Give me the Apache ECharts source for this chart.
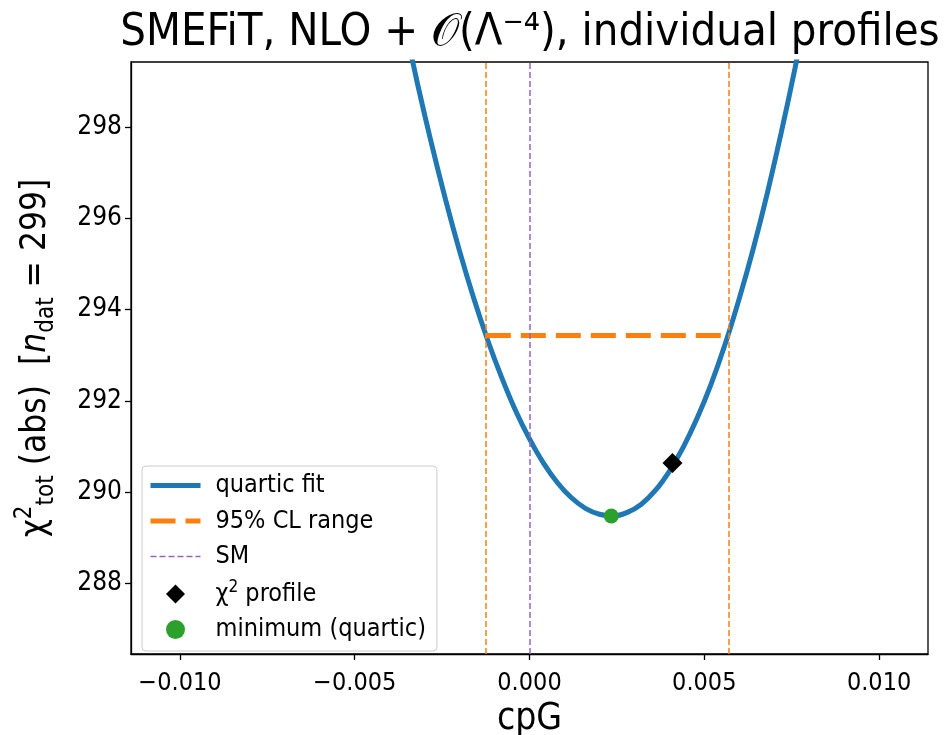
<!DOCTYPE html>
<html>
<head>
<meta charset="utf-8">
<script src="https://cdn.jsdelivr.net/npm/echarts@6/dist/echarts.min.js"></script>
<style>
html,body{margin:0;padding:0;background:#fff;}
#chart{width:947px;height:735px;}
</style>
</head>
<body>
<div id="chart"></div>
<script>
// ---- data ----
const cpG = [-0.0036,-0.0032,-0.0028,-0.0024,-0.0020,-0.0016,-0.0012,-0.0008,-0.0004,0.0000,
             0.0004,0.0008,0.0012,0.0016,0.0020,0.0024,0.0028,0.0032,0.0036,0.0040,
             0.0044,0.0048,0.0052,0.0056,0.0060,0.0064,0.0068,0.0072,0.0076,0.0080];
const chi2Fit = [300.35,298.93,297.62,296.40,295.28,294.26,293.34,292.52,291.79,291.17,
                 290.64,290.21,289.88,289.65,289.52,289.48,289.56,289.74,290.04,290.46,
                 290.99,291.63,292.38,293.25,294.24,295.33,296.54,297.87,299.30,300.85];
const clBounds = [-0.00125, 0.00571];
const clChi2 = 293.43;
const smValue = 0;
const profileX = [0.00409];
const profileY = [290.64];
const minimumX = [0.00234];
const minimumY = [289.48];
const xTicks = [-0.010,-0.005,0.000,0.005,0.010];
const yTicks = [288,290,292,294,296,298];
const xRange = [-0.0114, 0.0114];
const yRange = [286.46, 299.42];

const FONT = "'DejaVu Sans Condensed','DejaVu Sans',sans-serif";
const fitData = cpG.map((x,i)=>[x, chi2Fit[i]]);
const clData = clBounds.map(x=>[x, clChi2]);
const profData = profileX.map((x,i)=>[x, profileY[i]]);
const minData = minimumX.map((x,i)=>[x, minimumY[i]]);

const chart = echarts.init(document.getElementById('chart'), null, {renderer:'canvas'});
chart.setOption({
  animation:false,
  backgroundColor:'#fff',
  title:{
    text:'SMEFiT, NLO + 𝒪(Λ⁻⁴), individual profiles',
    left:525, top:6, textAlign:'center',
    textStyle:{fontFamily:FONT, fontSize:45, fontWeight:'normal', color:'#000'}
  },
  grid:{left:131, right:19, top:62, bottom:81, containLabel:false, outerBoundsMode:'none',
        show:true, borderColor:'#000', borderWidth:1.3, backgroundColor:'transparent'},
  legend:{
    orient:'vertical', left:142, top:466,
    symbolKeepAspect:true,
    data:[
      {name:'quartic fit', itemStyle:{opacity:0}, lineStyle:{color:'#1f77b4', width:5, type:'solid'}},
      {name:'95% CL range', itemStyle:{opacity:0}, lineStyle:{color:'#ff7f0e', width:5, type:[25,10]}},
      {name:'SM', itemStyle:{opacity:0}, lineStyle:{color:'#9467bd', width:1.5, type:[6,3]}},
      {name:'χ² profile', icon:'path://M0,-1L1,0L0,1L-1,0Z'},
      {name:'minimum (quartic)', icon:'circle'}
    ],
    itemWidth:50, itemHeight:19, itemGap:10.5,
    padding:[7,11,9,6],
    backgroundColor:'rgba(255,255,255,0.8)', borderColor:'#ccc', borderWidth:1, borderRadius:4,
    formatter: function(name){
      if(name==='χ² profile') return '{t|χ}{s|2}{t| profile}';
      return '{t|'+name+'}';
    },
    textStyle:{fontFamily:FONT, fontSize:25, color:'#000', padding:[0,0,0,10],
      rich:{t:{fontFamily:FONT, fontSize:25, color:'#000', lineHeight:25},
            s:{fontFamily:FONT, fontSize:17, color:'#000', verticalAlign:'bottom', padding:[0,0,12,0]}}}
  },
  xAxis:{
    type:'value', min:xRange[0], max:xRange[1],
    name:'cpG', nameLocation:'middle', nameGap:44,
    nameTextStyle:{fontFamily:FONT, fontSize:37, color:'#000'},
    axisLine:{show:true, onZero:false, lineStyle:{color:'#000', width:1.3}},
    axisTick:{show:true, customValues:xTicks, length:6, lineStyle:{color:'#000', width:1.3}},
    axisLabel:{customValues:xTicks, margin:17, fontFamily:FONT, fontSize:25, color:'#000',
      formatter:v=>(v<0?'\u2212':'')+Math.abs(v).toFixed(3)},
    splitLine:{show:false}
  },
  yAxis:{
    type:'value', min:yRange[0], max:yRange[1],
    name:'{a|χ}{p|2}{b|tot}{a| (abs)  [}{i|n}{b|dat}{a| = 299]}',
    nameLocation:'middle', nameGap:72, nameRotate:90,
    nameTextStyle:{fontFamily:FONT, fontSize:35, color:'#000',
      rich:{a:{fontFamily:FONT, fontSize:35, color:'#000', lineHeight:46},
            i:{fontFamily:FONT, fontSize:35, fontStyle:'italic', color:'#000', lineHeight:46},
            p:{fontFamily:FONT, fontSize:24, color:'#000', verticalAlign:'top', lineHeight:46},
            b:{fontFamily:FONT, fontSize:24, color:'#000', verticalAlign:'bottom', lineHeight:46}}},
    axisLine:{show:true, onZero:false, lineStyle:{color:'#000', width:1.3}},
    axisTick:{show:true, customValues:yTicks, length:6, lineStyle:{color:'#000', width:1.3}},
    axisLabel:{customValues:yTicks, margin:9, fontFamily:FONT, fontSize:26, color:'#000'},
    splitLine:{show:false}
  },
  series:[
    {name:'quartic fit', type:'line', data:fitData, smooth:0.3, symbol:'none', showSymbol:false,
     clip:true, z:2, lineStyle:{color:'#1f77b4', width:5}, itemStyle:{color:'#1f77b4'}},
    {name:'95% CL range', type:'line', data:clData, symbol:'none', showSymbol:false, z:3,
     lineStyle:{color:'#ff7f0e', width:5, type:[25,10]}, itemStyle:{color:'#ff7f0e'},
     markLine:{silent:true, precision:10, symbol:['none','none'], label:{show:false},
       lineStyle:{color:'#ff7f0e', width:1.5, type:[6,3]},
       data:clBounds.map(x=>({xAxis:x}))}},
    {name:'SM', type:'line', data:[], symbol:'none', showSymbol:false, z:3,
     lineStyle:{color:'#9467bd', width:1.5, type:[6,3]}, itemStyle:{color:'#9467bd'},
     markLine:{silent:true, precision:10, symbol:['none','none'], label:{show:false},
       lineStyle:{color:'#9467bd', width:1.5, type:[6,3]},
       data:[{xAxis:smValue}]}},
    {name:'χ² profile', type:'scatter', data:profData, symbol:'diamond', symbolSize:20, z:4,
     itemStyle:{color:'#000', opacity:1}},
    {name:'minimum (quartic)', type:'scatter', data:minData, symbol:'circle', symbolSize:15, z:4,
     itemStyle:{color:'#2ca02c', opacity:1}}
  ]
});
</script>
</body>
</html>
